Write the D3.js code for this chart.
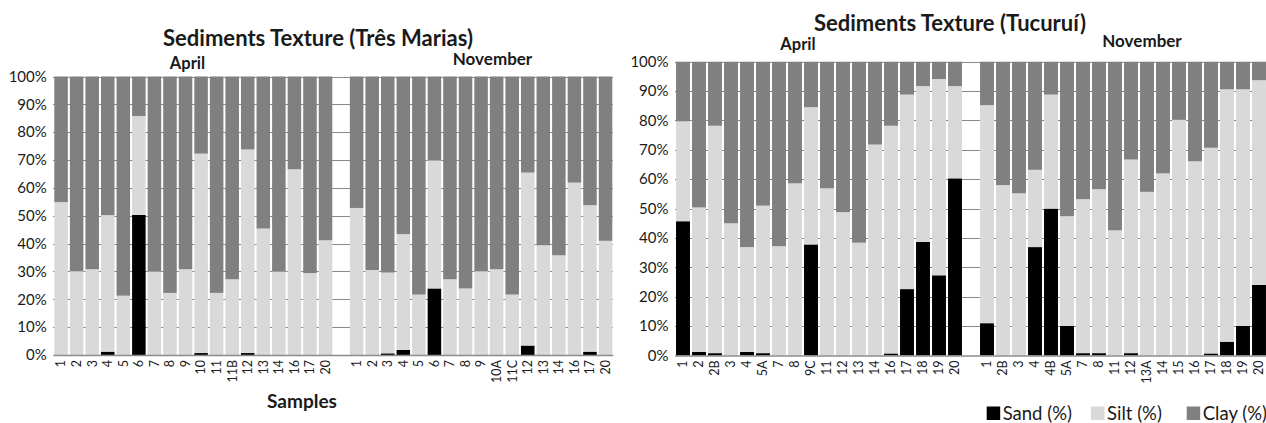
<html>
<script src='https://d3js.org/d3.v7.min.js'></script>
<style>
body { margin: 0; background-color: #ffffff; }
text { font-family: Lato, 'Open Sans', sans-serif; fill: #1a1a1a; }
.grid line { stroke: #8a8a8a; stroke-width: 1px; shape-rendering: crispEdges; }
.xaxis path { stroke: #8c8c8c; stroke-width: 1.5px; }
</style>
<body onload='init()'>
<script>

// Tres Marias, April
const tmAprilSamples = ["1","2","3","4","5","6","7","8","9","10","11","11B","12","13","14","16","17","20"];
const tmAprilSand = [0,0,0,1.2,0,50.3,0,0,0,0.7,0,0,0.7,0,0,0,0,0];
const tmAprilSilt = [54.9,30.1,30.8,49.0,21.3,35.5,30.0,22.3,30.8,71.6,22.3,27.2,73.1,45.4,30.0,66.7,29.4,41.2];
const tmAprilClay = [45.1,69.9,69.2,49.8,78.7,14.2,70.0,77.7,69.2,27.7,77.7,72.8,26.2,54.6,70.0,33.3,70.6,58.8];

// Tres Marias, November
const tmNovSamples = ["1","2","3","4","5","6","7","8","9","10A","11C","12","13","14","16","17","20"];
const tmNovSand = [0,0,0.6,1.8,0,23.9,0,0,0,0,0,3.4,0,0,0,1.2,0];
const tmNovSilt = [52.8,30.5,29.0,41.6,21.7,46.0,27.2,23.9,30.1,30.8,21.7,62.1,39.4,35.8,61.9,52.6,41.0];
const tmNovClay = [47.2,69.5,70.4,56.6,78.3,30.1,72.8,76.1,69.9,69.2,78.3,34.5,60.6,64.2,38.1,46.2,59.0];

// Tucurui, April
const tuAprilSamples = ["1","2","2B","3","4","5A","7","8","9C","11","12","13","14","16","17","18","19","20"];
const tuAprilSand = [45.7,1.2,0.8,0,1.2,0.8,0,0,37.8,0,0,0,0,0.7,22.6,38.7,27.3,60.3];
const tuAprilSilt = [34.0,49.2,77.4,45.0,35.7,50.2,37.2,58.6,46.7,56.9,48.8,38.4,71.8,77.5,66.2,53.0,66.8,31.4];
const tuAprilClay = [20.3,49.6,21.8,55.0,63.1,49.0,62.8,41.4,15.5,43.1,51.2,61.6,28.2,21.8,11.2,8.3,5.9,8.3];

// Tucurui, November
const tuNovSamples = ["1","2B","3","4","4B","5A","7","8","11","12","13A","14","15","16","17","18","19","20"];
const tuNovSand = [11.0,0,0,36.9,50.0,10.1,0.8,0.8,0,0.8,0,0,0,0,0.7,4.7,10.1,24.0];
const tuNovSilt = [74.2,58.0,55.2,26.3,38.8,37.3,52.4,55.8,42.6,65.9,55.7,62.0,80.2,66.1,70.0,85.9,80.5,69.7];
const tuNovClay = [14.8,42.0,44.8,36.8,11.2,52.6,46.8,43.4,57.4,33.3,44.3,38.0,19.8,33.9,29.3,9.4,9.4,6.3];

const yTicks = [0,10,20,30,40,50,60,70,80,90,100];
const fractions = ["sand","silt","clay"];
const legendLabels = ["Sand (%)","Silt (%)","Clay (%)"];
const colors = {sand: "#000000", silt: "#d9d9d9", clay: "#808080"};

function rows(prefix, samples, sand, silt, clay) {
  return samples.map(function(s, i) {
    return {key: prefix + ":" + s, label: s, sand: sand[i], silt: silt[i], clay: clay[i]};
  });
}

function drawPanel(svg, p) {
  var data = p.april.concat([{key: "gap", label: ""}]).concat(p.nov);
  var bars = data.filter(function(d){ return d.key != "gap"; });

  var x = d3.scaleBand().domain(data.map(function(d){ return d.key; }))
      .range([p.left, p.right]).paddingInner(0.13).paddingOuter(0.065);
  var y = d3.scaleLinear().domain([0,100]).range([p.bottom, p.top]);

  var g = svg.append("g");

  // gridlines behind the bars
  g.append("g").attr("class", "grid")
    .selectAll("line").data(yTicks.slice(1)).enter().append("line")
      .attr("x1", p.left).attr("x2", p.right)
      .attr("y1", function(d){ return Math.round(y(d)) + 0.5; })
      .attr("y2", function(d){ return Math.round(y(d)) + 0.5; });

  var series = d3.stack().keys(fractions)(bars);
  g.selectAll(".layer").data(series).enter().append("g")
      .attr("class", "layer")
      .attr("fill", function(s){ return colors[s.key]; })
    .selectAll("rect").data(function(s){ return s; }).enter().append("rect")
      .attr("x", function(d){ return x(d.data.key); })
      .attr("width", x.bandwidth())
      .attr("y", function(d){ return y(d[1]); })
      .attr("height", function(d){ return y(d[0]) - y(d[1]); });

  // y tick labels
  g.selectAll(".ytick").data(yTicks).enter().append("text")
      .attr("class", "ytick")
      .attr("x", p.left - 6.5)
      .attr("y", function(d){ return y(d); })
      .attr("dy", "0.35em")
      .attr("text-anchor", "end")
      .style("font-size", "15px")
      .text(function(d){ return d + "%"; });

  var labelOf = {};
  data.forEach(function(d){ labelOf[d.key] = d.label; });

  var xa = g.append("g").attr("class", "xaxis")
      .attr("transform", "translate(0," + p.bottom + ")")
      .call(d3.axisBottom(x).tickSize(0).tickSizeOuter(0).tickFormat(function(k){ return labelOf[k]; }));
  xa.selectAll("text")
      .attr("transform", "rotate(-90)")
      .attr("x", -5).attr("y", 0).attr("dy", "0.35em")
      .attr("text-anchor", "end")
      .style("font-size", "12.5px")
      .style("font-family", "Lato, sans-serif")
      .style("fill", "#1a1a1a");
  xa.select(".domain").attr("d", "M" + p.left + ",0.5H" + p.right);

  g.append("text")
      .attr("x", p.titleX).attr("y", p.titleY)
      .attr("text-anchor", "middle")
      .style("font-size", "22px").style("font-weight", "bold")
      .attr("textLength", p.titleW).attr("lengthAdjust", "spacingAndGlyphs")
      .text(p.title);
  g.append("text")
      .attr("x", p.aprilX).attr("y", p.aprilY)
      .attr("text-anchor", "middle")
      .style("font-size", "16.5px").style("font-weight", "bold")
      .text("April");
  g.append("text")
      .attr("x", p.novX).attr("y", p.novY)
      .attr("text-anchor", "middle")
      .style("font-size", "17px").style("font-weight", "bold")
      .text("November");
}

function init() {
  var svg = d3.select("body").append("svg")
      .attr("width", 1266).attr("height", 423);

  drawPanel(svg, {
    april: rows("A", tmAprilSamples, tmAprilSand, tmAprilSilt, tmAprilClay),
    nov: rows("N", tmNovSamples, tmNovSand, tmNovSilt, tmNovClay),
    left: 53.3, right: 613.3, top: 76.5, bottom: 355,
    title: "Sediments Texture (Três Marias)", titleX: 318, titleY: 46, titleW: 310,
    aprilX: 187.5, aprilY: 69, novX: 492.5, novY: 65
  });

  drawPanel(svg, {
    april: rows("A", tuAprilSamples, tuAprilSand, tuAprilSilt, tuAprilClay),
    nov: rows("N", tuNovSamples, tuNovSand, tuNovSilt, tuNovClay),
    left: 675, right: 1267, top: 61.7, bottom: 355.5,
    title: "Sediments Texture (Tucuruí)", titleX: 950, titleY: 31, titleW: 272,
    aprilX: 798, aprilY: 50, novX: 1142, novY: 47
  });

  svg.append("text")
      .attr("x", 302).attr("y", 408)
      .attr("text-anchor", "middle")
      .style("font-size", "19px").style("font-weight", "bold")
      .text("Samples");

  // legend
  var legendX = [986.7, 1091, 1186.7];
  var legend = svg.selectAll(".legend").data(fractions).enter().append("g")
      .attr("class", "legend")
      .attr("transform", function(d, i){ return "translate(" + legendX[i] + ",0)"; });
  legend.append("rect")
      .attr("y", 406.5).attr("width", 13.5).attr("height", 13.5)
      .attr("fill", function(d){ return colors[d]; });
  legend.append("text")
      .attr("x", 16).attr("y", 420)
      .style("font-size", "18.5px")
      .text(function(d, i){ return legendLabels[i]; });
}

</script>
</body>
</html>
